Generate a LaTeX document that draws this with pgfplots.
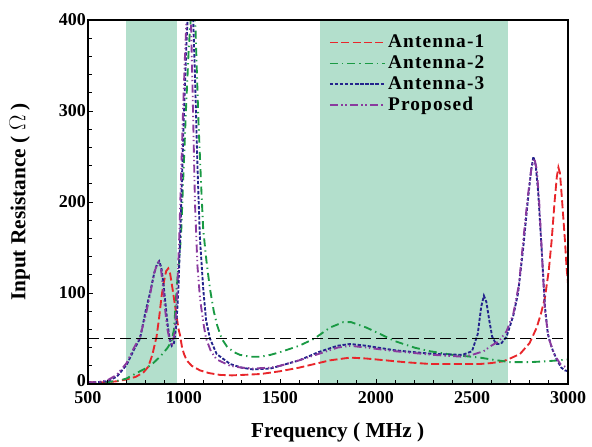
\documentclass[border=0pt]{standalone}
\usepackage{fontspec}
\setmainfont{Liberation Serif}
\newfontfamily\legfont[LetterSpace=6]{Liberation Serif}
\usepackage{pgfplots}
\pgfplotsset{compat=1.18}

\definecolor{bandc}{HTML}{B3DFCC}
\definecolor{cred}{HTML}{E8262B}
\definecolor{cgreen}{HTML}{1A9A44}
\definecolor{cnavy}{HTML}{24238C}
\definecolor{cpurp}{HTML}{8A3A9E}

\begin{document}
\begin{tikzpicture}
\begin{axis}[
    name=ax,
    scale only axis,
    width=360pt, height=273pt,
    xmin=500, xmax=3000,
    ymin=0, ymax=400,
    xtick={500,1000,...,3000},
    ytick={0,100,...,400},
    yticklabels={\raisebox{5pt}{0},100,200,300,400},
    minor x tick num=4,
    minor y tick num=4,
    tick align=inside,
    xtick pos=left, ytick pos=left,
    major tick length=4pt, minor tick length=3pt,
    axis on top,
    axis line style={line width=0.9pt},
    every tick/.style={black, line width=0.7pt},
    /pgf/number format/assume math mode=true,
    /pgf/number format/1000 sep={},
    ticklabel style={font=\bfseries\fontsize{13.5}{14}\selectfont},
    xticklabel style={yshift=-2pt},
    yticklabel style={xshift=2pt},
    xlabel={Frequency ( MHz )},
    ylabel={Input Resistance ( $\Omega$ )},
    every axis x label/.style={at={(axis description cs:0.52,-0.132)}, anchor=center,
        font=\bfseries\fontsize{16}{18}\selectfont},
    every axis y label/.style={at={(axis description cs:-0.142,0.5)}, rotate=90, anchor=center,
        font=\bfseries\fontsize{16}{18}\selectfont},
    legend style={draw=none, fill=none, at={(axis description cs:0.493,0.975)}, anchor=north west,
        font=\legfont\bfseries\fontsize{14.5}{15}\selectfont,
        nodes={text height=9.8pt, text depth=2.5pt, inner sep=1.7pt}},
    legend cell align=left,
    legend image code/.code={\draw[#1] (0cm,0cm) -- (1.45cm,0cm);},
]
% shaded bands
\addplot[draw=none, fill=bandc, forget plot] coordinates {(700,0) (962,0) (962,400) (700,400)} -- cycle;
\addplot[draw=none, fill=bandc, forget plot] coordinates {(1708,0) (2689,0) (2689,400) (1708,400)} -- cycle;

% Antenna-1
\addplot[cred, line width=1.4pt, dash pattern=on 6pt off 2.5pt] coordinates {
(500,2)(550,2)(600,2)(650,3)(700,5)(750,8)(790,13)(814,19)(835,32)(857,52)(870,72)(883,96)(895,112)(907,124)(918,127)(928,121)(940,105)(952,88)(963,72)(972,60)(979,54)(990,40)(1000,33)(1014,26)(1040,20)(1083,15)(1130,12)(1187,10)(1250,9.5)(1307,10)(1400,11)(1500,14)(1600,18)(1700,23)(1760,26)(1865,29)(1950,28)(2050,26)(2150,24)(2281,22)(2400,22)(2542,22)(2600,23)(2663,25)(2698,28)(2750,33)(2800,45)(2837,62)(2860,78)(2880,95)(2900,125)(2915,158)(2930,200)(2942,228)(2950,238)(2958,232)(2968,205)(2984,158)(2992,130)(3000,110)
};
\addlegendentry{Antenna-1}

% Antenna-2
\addplot[cgreen, line width=1.4pt, dash pattern=on 6pt off 3pt on 1pt off 3pt] coordinates {
(500,1)(550,1)(600,2)(667,4)(700,6)(753,12)(807,18)(840,23)(870,29)(892,34)(915,40)(935,47)(948,60)(962,106)(976,139)(985,165)(995,220)(1010,300)(1025,370)(1040,415)(1050,420)(1060,390)(1075,290)(1090,215)(1100,170)(1117,135)(1135,105)(1155,80)(1172,65)(1196,50)(1224,41)(1260,35)(1292,32)(1344,30)(1400,30)(1450,32)(1500,35)(1600,42)(1680,50)(1760,62)(1830,68)(1870,68)(1950,62)(2021,55)(2100,47)(2200,40)(2281,36)(2400,32)(2542,29)(2600,27)(2698,24)(2800,24)(2890,25)(2950,26)(3000,27)
};
\addlegendentry{Antenna-2}

% Antenna-3
\addplot[cnavy, line width=1.4pt, dash pattern=on 2.5pt off 1.3pt] coordinates {
(500,2)(550,2)(600,3)(650,8)(701,21)(740,38)(771,50)(800,80)(823,100)(845,122)(860,132)(871,135)(882,128)(893,110)(905,85)(915,65)(925,50)(936,42)(948,45)(960,65)(970,100)(980,160)(990,230)(1000,300)(1012,370)(1025,430)(1035,445)(1045,420)(1057,340)(1070,240)(1083,160)(1100,105)(1115,70)(1135,50)(1170,33)(1240,22)(1300,18)(1359,16)(1450,17)(1500,20)(1600,26)(1700,35)(1800,42)(1865,44)(1950,42)(2100,37)(2300,33)(2450,32)(2500,36)(2530,55)(2548,85)(2562,97)(2575,90)(2590,70)(2605,52)(2625,44)(2650,44)(2680,52)(2715,75)(2740,100)(2767,150)(2790,200)(2808,235)(2820,250)(2832,240)(2845,210)(2863,147)(2880,85)(2895,55)(2915,40)(2941,27)(2965,18)(2984,15)(3000,14)
};
\addlegendentry{Antenna-3}

% Proposed
\addplot[cpurp, line width=1.4pt, dash pattern=on 6pt off 2.5pt on 1pt off 2pt on 1pt off 2.5pt] coordinates {
(500,2)(550,2)(600,4)(650,10)(701,23)(740,40)(771,52)(800,75)(823,98)(845,122)(857,130)(868,134)(880,126)(890,108)(900,85)(912,62)(925,48)(938,44)(950,55)(962,90)(975,160)(985,230)(995,300)(1005,360)(1015,410)(1025,430)(1035,410)(1045,320)(1057,200)(1070,130)(1083,95)(1100,68)(1115,50)(1140,36)(1170,27)(1240,20)(1300,18)(1359,17)(1450,18)(1500,20)(1600,26)(1700,33)(1800,40)(1865,42)(1950,40)(2100,36)(2300,32)(2450,30)(2500,32)(2560,36)(2600,42)(2640,47)(2680,58)(2715,77)(2745,110)(2767,158)(2790,205)(2810,238)(2825,248)(2838,235)(2850,200)(2865,140)(2880,80)(2900,50)(2930,32)(2960,22)(3000,17)
};
\addlegendentry{Proposed}

% 50 ohm reference
\addplot[black, line width=1.1pt, dash pattern=on 8pt off 4pt, forget plot] coordinates {(500,50) (3000,50)};
\end{axis}
\path (ax.south west) ++(-66pt,-42.75pt) rectangle ++(444pt,330.75pt);
\end{tikzpicture}
\end{document}
